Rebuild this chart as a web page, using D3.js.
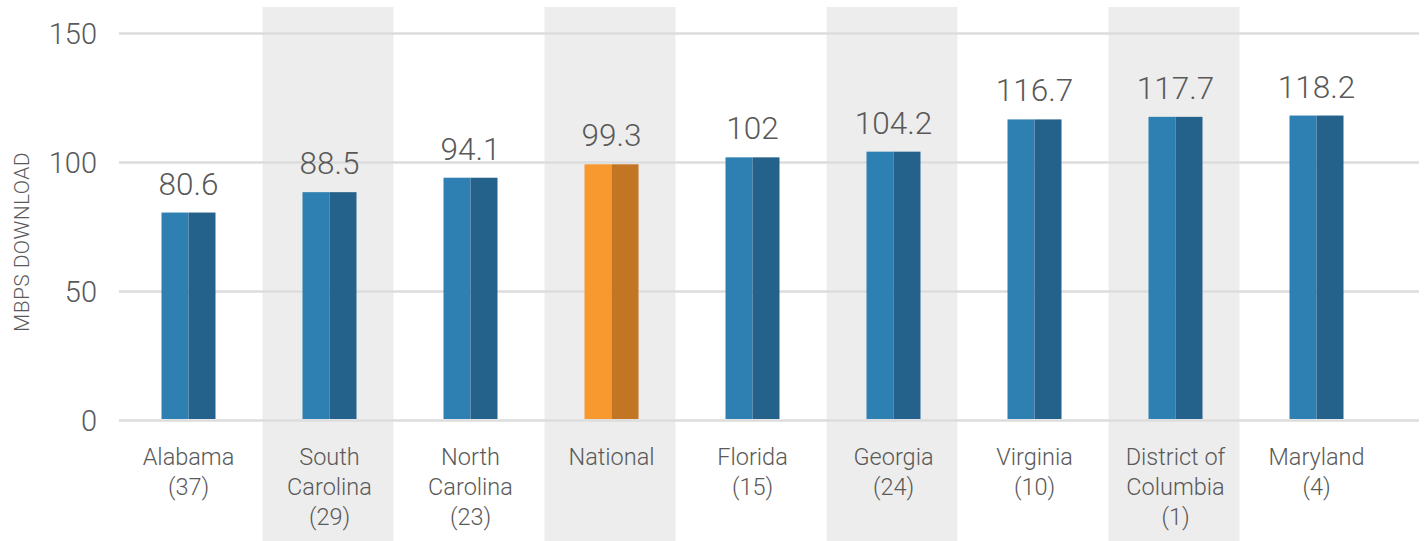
<!DOCTYPE html>
<html>
<head>
<meta charset="utf-8">
<script src="https://cdn.jsdelivr.net/npm/d3@7"></script>
<style>
  html, body { margin: 0; padding: 0; background: #ffffff; }
  svg text { font-family: Roboto, "Noto Sans", sans-serif; font-weight: 300; fill: #595959; }
</style>
</head>
<body>
<svg id="chart" width="1427" height="541"></svg>
<script>
// Average download speed by state (number in parentheses = rank)
const categories = ["Alabama", "South Carolina", "North Carolina", "National", "Florida",
                    "Georgia", "Virginia", "District of Columbia", "Maryland"];
const categoryLines = [
  ["Alabama", "(37)"],
  ["South", "Carolina", "(29)"],
  ["North", "Carolina", "(23)"],
  ["National"],
  ["Florida", "(15)"],
  ["Georgia", "(24)"],
  ["Virginia", "(10)"],
  ["District of", "Columbia", "(1)"],
  ["Maryland", "(4)"]
];
const downloadMbps = [80.6, 88.5, 94.1, 99.3, 102, 104.2, 116.7, 117.7, 118.2];
const yTicks = [0, 50, 100, 150];
const yTitle = "MBPS DOWNLOAD";
const highlight = "National";

const svg = d3.select("#chart");

const x = d3.scaleBand().domain(categories).range([118, 1387]).padding(0);
const y = d3.scaleLinear().domain([0, 150]).range([420.5, 33.5]);

const barW = 54;
const shadeW = 131;

// alternating column shading
svg.append("g").selectAll("rect")
  .data(categories.filter((d, i) => i % 2 === 1))
  .join("rect")
  .attr("x", d => x(d) + x.bandwidth() / 2 - 1.5 - shadeW / 2)
  .attr("y", 7)
  .attr("width", shadeW)
  .attr("height", 541 - 7)
  .attr("fill", "#ededed");

// horizontal gridlines
svg.append("g").selectAll("line")
  .data(yTicks)
  .join("line")
  .attr("x1", 119).attr("x2", 1419)
  .attr("y1", d => y(d)).attr("y2", d => y(d))
  .attr("stroke", "#dcdcdc")
  .attr("stroke-width", 2.5);

// y tick labels
svg.append("g").selectAll("text")
  .data(yTicks)
  .join("text")
  .attr("x", 97)
  .attr("y", d => y(d))
  .attr("dy", "0.36em")
  .attr("text-anchor", "end")
  .style("font-size", "29px")
  .text(d => d);

// y axis title
svg.append("text")
  .attr("transform", `translate(29, ${(y(0) + y(150)) / 2 + 15}) rotate(-90)`)
  .attr("text-anchor", "middle")
  .style("font-size", "21px")
  .style("letter-spacing", "0.4px")
  .text(yTitle);

// two-tone bars: light left half, dark right half
const bars = svg.append("g").selectAll("g")
  .data(categories.map((c, i) => ({ c, v: downloadMbps[i] })))
  .join("g");

bars.append("rect")
  .attr("x", d => x(d.c) + x.bandwidth() / 2 - barW / 2)
  .attr("y", d => y(d.v))
  .attr("width", barW / 2)
  .attr("height", d => y(0) - 1.5 - y(d.v))
  .attr("fill", d => d.c === highlight ? "#f7992e" : "#2e80b2");

bars.append("rect")
  .attr("x", d => x(d.c) + x.bandwidth() / 2)
  .attr("y", d => y(d.v))
  .attr("width", barW / 2)
  .attr("height", d => y(0) - 1.5 - y(d.v))
  .attr("fill", d => d.c === highlight ? "#c27523" : "#24628b");

// value labels
bars.append("text")
  .attr("x", d => x(d.c) + x.bandwidth() / 2)
  .attr("y", d => y(d.v) - 18)
  .attr("text-anchor", "middle")
  .style("font-size", "31.5px")
  .text(d => d.v);

// category labels (wrapped)
svg.append("g").selectAll("text")
  .data(categories.map((c, i) => ({ c, lines: categoryLines[i] })))
  .join("text")
  .attr("x", d => x(d.c) + x.bandwidth() / 2)
  .attr("y", 465)
  .attr("text-anchor", "middle")
  .style("font-size", "23.5px")
  .selectAll("tspan")
  .data(d => d.lines.map(t => ({ t, cx: x(d.c) + x.bandwidth() / 2 })))
  .join("tspan")
  .attr("x", d => d.cx)
  .attr("dy", (d, i) => i === 0 ? 0 : 30)
  .text(d => d.t);
</script>
</body>
</html>
